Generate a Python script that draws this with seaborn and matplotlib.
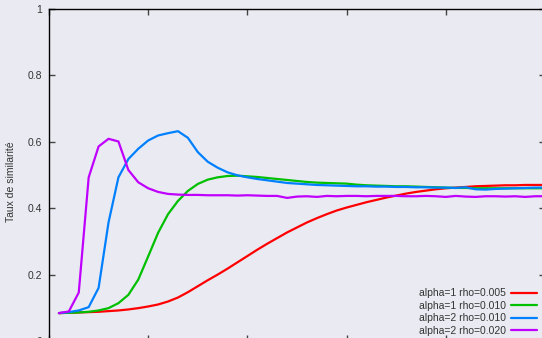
import numpy as np
import pandas as pd
import seaborn as sns
import matplotlib
matplotlib.use("Agg")
import matplotlib.pyplot as plt

# iterations (x axis), one point every 10
iterations = list(range(10, 510, 10))

red_a1_r005 = [
    0.084, 0.085, 0.086, 0.087, 0.088, 0.090, 0.092, 0.095, 0.099, 0.104,
    0.110, 0.119, 0.131, 0.147, 0.165, 0.183, 0.200, 0.218, 0.237, 0.256,
    0.275, 0.293, 0.310, 0.327, 0.342, 0.357, 0.370, 0.382, 0.393, 0.402,
    0.410, 0.418, 0.425, 0.432, 0.438, 0.444, 0.449, 0.453, 0.457, 0.460,
    0.462, 0.464, 0.466, 0.467, 0.468, 0.469, 0.469, 0.470, 0.470, 0.470,
]
green_a1_r010 = [
    0.084, 0.085, 0.086, 0.088, 0.092, 0.099, 0.114, 0.139, 0.185, 0.255,
    0.326, 0.382, 0.422, 0.452, 0.473, 0.486, 0.493, 0.497, 0.498, 0.496,
    0.494, 0.491, 0.488, 0.485, 0.482, 0.479, 0.477, 0.476, 0.475, 0.474,
    0.471, 0.469, 0.468, 0.467, 0.466, 0.466, 0.465, 0.464, 0.463, 0.462,
    0.461, 0.461, 0.460, 0.460, 0.460, 0.460, 0.460, 0.460, 0.460, 0.460,
]
blue_a2_r010 = [
    0.084, 0.087, 0.092, 0.102, 0.160, 0.357, 0.493, 0.548, 0.579, 0.604,
    0.619, 0.626, 0.632, 0.612, 0.569, 0.540, 0.522, 0.508, 0.499, 0.493,
    0.488, 0.484, 0.480, 0.476, 0.474, 0.472, 0.470, 0.469, 0.468, 0.467,
    0.466, 0.466, 0.465, 0.465, 0.464, 0.464, 0.463, 0.463, 0.462, 0.462,
    0.461, 0.463, 0.457, 0.456, 0.458, 0.459, 0.460, 0.461, 0.462, 0.462,
]
purple_a2_r020 = [
    0.084, 0.089, 0.146, 0.493, 0.586, 0.609, 0.601, 0.515, 0.478, 0.460,
    0.449, 0.443, 0.441, 0.440, 0.440, 0.439, 0.439, 0.439, 0.438, 0.439,
    0.438, 0.437, 0.437, 0.431, 0.435, 0.436, 0.434, 0.437, 0.436, 0.437,
    0.437, 0.436, 0.437, 0.437, 0.437, 0.436, 0.436, 0.437, 0.436, 0.434,
    0.437, 0.435, 0.434, 0.436, 0.436, 0.435, 0.436, 0.434, 0.436, 0.436,
]

labels = ["alpha=1 rho=0.005", "alpha=1 rho=0.010",
          "alpha=2 rho=0.010", "alpha=2 rho=0.020"]
colors = ["#ff0000", "#00c000", "#0080ff", "#c000ff"]

y_ticks = [0, 0.2, 0.4, 0.6, 0.8, 1]
y_ticklabels = ["0", "0.2", "0.4", "0.6", "0.8", "1"]
x_ticks = [0, 100, 200, 300, 400, 500]

series = [red_a1_r005, green_a1_r010, blue_a2_r010, purple_a2_r020]
df = pd.concat(
    [pd.DataFrame({"iter": iterations, "taux": vals, "courbe": lab})
     for vals, lab in zip(series, labels)],
    ignore_index=True,
)

bg = "#eaeaf2"
sns.set_theme(style="dark", rc={
    "axes.facecolor": bg,
    "figure.facecolor": bg,
    "axes.edgecolor": "black",
    "axes.linewidth": 1.0,
})
plt.rcParams["font.family"] = ["Liberation Sans", "DejaVu Sans"]

fig = plt.figure(figsize=(5.42, 3.38), dpi=100)
# the original is a crop: bottom and right edges of the frame fall outside
ax = fig.add_axes([49 / 542, -3 / 338, 496 / 542, 332 / 338])

sns.lineplot(data=df, x="iter", y="taux", hue="courbe", palette=colors,
             linewidth=1.6, ax=ax, legend=True)

ax.set_xlim(0, 500)
ax.set_ylim(0, 1)
ax.set_xticks(x_ticks)
ax.set_xticklabels([])
ax.set_yticks(y_ticks)
ax.set_yticklabels(y_ticklabels)
ax.set_xlabel("")
ax.tick_params(axis="both", direction="in", length=4, width=1,
               color="#444444", top=True, right=True, bottom=True, left=True,
               labelsize=7.5, labelcolor="#333333", pad=5)
ax.set_ylabel("Taux de similarité", fontsize=7.5, color="#333333")
# rotated label: right edge ~16 px from the left, centre ~182 px from the top
ax.yaxis.set_label_coords(16 / 542, 156 / 338, transform=fig.transFigure)
for s in ax.spines.values():
    s.set_visible(True)
    s.set_color("black")

handles, labs = ax.get_legend_handles_labels()
ax.legend(handles, labs, loc="lower right", markerfirst=False, frameon=False,
          fontsize=7.5, handlelength=2.5, handletextpad=0.5, labelspacing=0.25,
          borderpad=0, borderaxespad=0,
          bbox_to_anchor=(537 / 542, 2 / 338), bbox_transform=fig.transFigure)
for t in ax.get_legend().get_texts():
    t.set_color("#333333")

fig.savefig("out.png", dpi=100, facecolor=bg)
